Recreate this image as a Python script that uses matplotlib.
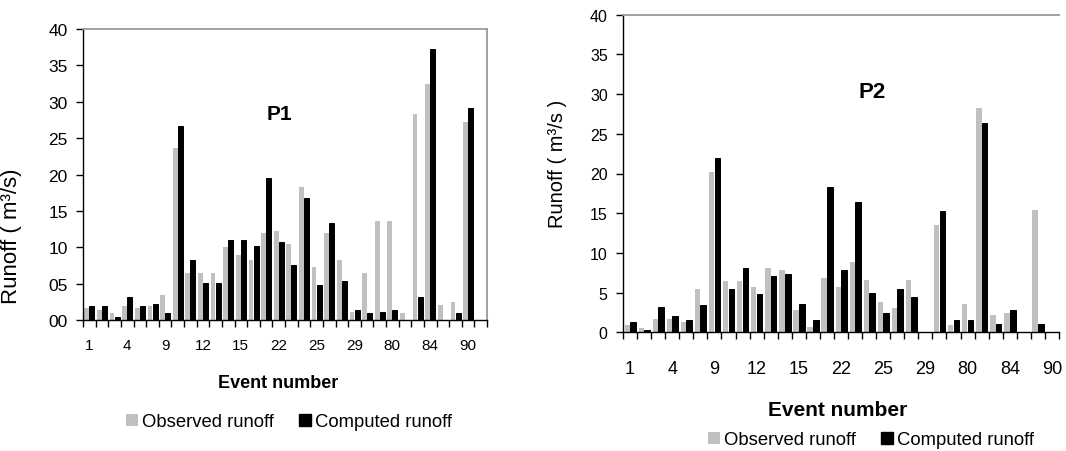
"""Observed vs computed runoff per event for plots P1 and P2 (Excel-style grouped bars)."""

import matplotlib
matplotlib.use("Agg")
import matplotlib.pyplot as plt
import numpy as np
from matplotlib.patches import Patch

# event labels shown under every third category
tick_labels = ["1", "4", "9", "12", "15", "22", "25", "29", "80", "84", "90"]

# P1: 32 categories
p1_observed = [1.6, 1.4, 0.9, 1.9, 1.6, 1.9, 3.4, 23.7, 6.5, 6.5, 6.5, 10.0, 8.9, 8.3, 11.9, 12.2,
               10.4, 18.3, 7.3, 11.9, 8.3, 1.1, 6.5, 13.6, 13.6, 0.9, 28.3, 32.4, 2.1, 2.5, 27.2, 0.0]
p1_computed = [1.9, 1.9, 0.45, 3.15, 1.9, 2.15, 0.9, 26.6, 8.3, 5.1, 5.1, 11.0, 11.0, 10.2, 19.5, 10.7,
               7.5, 16.8, 4.8, 13.4, 5.3, 1.4, 0.9, 1.15, 1.4, 0.0, 3.1, 37.3, 0.0, 0.9, 29.1, 0.0]

# P2: 31 categories
p2_observed = [0.9, 0.5, 1.7, 1.7, 1.25, 5.5, 20.2, 6.4, 6.4, 5.75, 8.1, 7.9, 2.85, 0.7, 6.9, 5.75,
               8.8, 6.6, 3.8, 3.1, 6.6, 0.0, 13.5, 0.9, 3.6, 28.2, 2.2, 2.4, 0.0, 15.4, 0.0]
p2_computed = [1.25, 0.3, 3.15, 2.0, 1.5, 3.4, 22.0, 5.5, 8.1, 4.8, 7.1, 7.35, 3.6, 1.5, 18.3, 7.85,
               16.4, 5.0, 2.4, 5.5, 4.5, 0.0, 15.25, 1.5, 1.5, 26.3, 1.0, 2.85, 0.0, 1.0, 0.0]

y_values = list(range(0, 41, 5))

GRAY = "#c0c0c0"
BORDER = "#999999"
W, H = 1066, 452

plt.rcParams["font.family"] = ["Liberation Sans", "DejaVu Sans"]


def draw_panel(ax, observed, computed, ytick_fmt, ytick_size, xtick_size, xtick_pad, show_right=True):
    n = len(observed)
    x = np.arange(n)
    ax.bar(x - 0.2, observed, width=0.38, color=GRAY, linewidth=0)
    ax.bar(x + 0.21, computed, width=0.4, color="black", edgecolor="black", linewidth=0.7)

    ax.set_xlim(-0.5, n - 0.5)
    ax.set_ylim(0, 40)

    ax.set_xticks(np.arange(0, n, 3)[:len(tick_labels)])
    ax.set_xticklabels(tick_labels, fontsize=xtick_size)
    ax.set_xticks(np.arange(n + 1) - 0.5, minor=True)
    ax.tick_params(axis="x", which="major", length=0, pad=xtick_pad)
    ax.tick_params(axis="x", which="minor", length=5, width=1, direction="out")

    ax.set_yticks(y_values)
    ax.set_yticklabels([ytick_fmt.format(v) for v in y_values], fontsize=ytick_size)
    ax.tick_params(axis="y", length=5, width=1, direction="out", pad=6)

    for side in ("left", "bottom"):
        ax.spines[side].set_color("black")
        ax.spines[side].set_linewidth(1.0)
    ax.spines["top"].set_color(BORDER)
    ax.spines["top"].set_linewidth(1.3)
    ax.spines["right"].set_color(BORDER)
    ax.spines["right"].set_linewidth(1.3)
    ax.spines["right"].set_visible(show_right)


def main():
    fig = plt.figure(figsize=(W / 100, H / 100), dpi=100)

    ax1 = fig.add_axes([83 / W, 1 - 321 / H, 404 / W, 291 / H])
    draw_panel(ax1, p1_observed, p1_computed, "{:02d}", 12.5, 11, 13)
    ax1.set_ylabel("Runoff ( m³/s)", fontsize=16)
    ax1.yaxis.set_label_coords((22 - 83) / 404, 0.29)
    ax1.text(0.485, 0.708, "P1", transform=ax1.transAxes, ha="center", va="center",
             fontsize=15, fontweight="bold")

    ax2 = fig.add_axes([623 / W, 1 - 333.3 / H, 436 / W, 317.6 / H])
    draw_panel(ax2, p2_observed, p2_computed, "{:d}", 11.5, 13, 20, show_right=False)
    ax2.set_ylabel("Runoff ( m³/s )", fontsize=14.5)
    ax2.yaxis.set_label_coords((567 - 623) / 436, 0.535)
    ax2.text(0.571, 0.758, "P2", transform=ax2.transAxes, ha="center", va="center",
             fontsize=16, fontweight="bold")

    fig.text(278 / W, 1 - 383 / H, "Event number", ha="center", va="center",
             fontsize=13, fontweight="bold")
    fig.text(838 / W, 1 - 411 / H, "Event number", ha="center", va="center",
             fontsize=15, fontweight="bold")

    handles = [Patch(facecolor=GRAY, edgecolor="none", label="Observed runoff"),
               Patch(facecolor="black", edgecolor="black", label="Computed runoff")]
    for ax, cx, cy in ((ax1, 289, 423), (ax2, 871, 441)):
        ax.legend(handles=handles, loc="center", bbox_to_anchor=(cx / W, 1 - cy / H),
                  bbox_transform=fig.transFigure, ncol=2, frameon=False, fontsize=13.3,
                  handlelength=0.65, handleheight=0.65, handletextpad=0.2, columnspacing=1.4,
                  borderaxespad=0, borderpad=0)

    fig.savefig("out.png", dpi=100, facecolor="white")


if __name__ == "__main__":
    main()
